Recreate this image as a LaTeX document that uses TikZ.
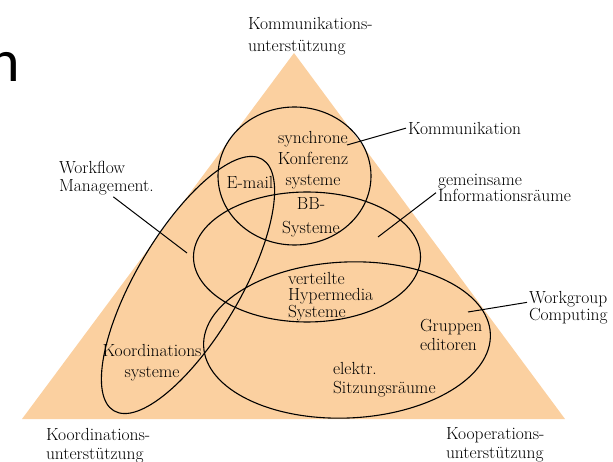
\documentclass[tikz,border=0pt]{standalone}
\usepackage{fontspec}
\newfontfamily\slidefont{Carlito}
\usetikzlibrary{shapes.geometric}
\definecolor{peach}{RGB}{251,208,160}

\begin{document}
\begin{tikzpicture}[x=1pt,y=-1pt,line width=1pt,
                    region/.style={draw,ellipse,line width=1.1pt,inner sep=0pt},
                    lbl/.style={inner sep=0pt,outer sep=2pt,align=left,
                                font=\fontsize{17.5}{#1}\selectfont},
                    lbl/.default=20]

  \useasboundingbox (0,0) rectangle (613,462);
  \node[inner sep=0pt,anchor=base east,font=\slidefont\fontsize{60}{60}\selectfont]
       (slide) at (21,82) {n};

  \fill[peach] (294,53) -- (565,419) -- (22,419) -- cycle;

  \node[region,minimum width=153pt,minimum height=138pt]            (komm) at (294.5,176) {};
  \node[region,minimum width=227pt,minimum height=130pt]            (info) at (307,257) {};
  \node[region,minimum width=287pt,minimum height=156pt,rotate=2.5]  (coop) at (347,340) {};
  \node[region,minimum width=292pt,minimum height=104pt,rotate=59.5] (flow) at (188,285) {};

  \node[lbl=22,anchor=north west] (top)   at (246,15)  {Kommunikations-\\unterstützung};
  \node[lbl=19,anchor=north west] (left)  at (44,426)  {Koordinations-\\unterstützung};
  \node[lbl=19,anchor=north west] (right) at (444,426) {Kooperations-\\unterstützung};

  \node[lbl,anchor=north west]    (kommlbl) at (406,120) {Kommunikation};
  \node[lbl=16,anchor=north west] (infolbl) at (436,172) {gemeinsame\\Informationsräume};
  \node[lbl=18,anchor=north west] (flowlbl) at (57,159)  {Workflow\\Management.};
  \node[lbl=17,anchor=north west] (cooplbl) at (527,289) {Workgroup\\Computing};

  \node[lbl=21,anchor=north,align=center] (sync)  at (313,129) {synchrone\\Konferenz\\systeme};
  \node[lbl,anchor=north]                 (mail)  at (250,174) {E-mail};
  \node[lbl=24,anchor=north,align=center] (bb)    at (311,196) {BB-\\Systeme};
  \node[lbl=16.5,anchor=north west]       (hyper) at (286,270) {verteilte\\Hypermedia\\Systeme};
  \node[lbl=19,anchor=north west]         (edit)  at (418,317) {Gruppen\\editoren};
  \node[lbl=19,anchor=north west]         (room)  at (331,360) {elektr.\\Sitzungsräume};
  \node[lbl=21,anchor=north,align=center] (koord) at (152,342) {Koordinations\\systeme};

  \coordinate (kommend) at (347,145);
  \coordinate (infoend) at (378,237);
  \coordinate (flowend) at (187,253);
  \coordinate (coopend) at (468,312);

  \draw (kommlbl.west)              -- (kommend);
  \draw ([yshift=-5pt]infolbl.west) -- (infoend);
  \draw ([xshift=7pt]flowlbl.south) -- (flowend);
  \draw ([yshift=5pt]cooplbl.west)  -- (coopend);
\end{tikzpicture}
\end{document}
